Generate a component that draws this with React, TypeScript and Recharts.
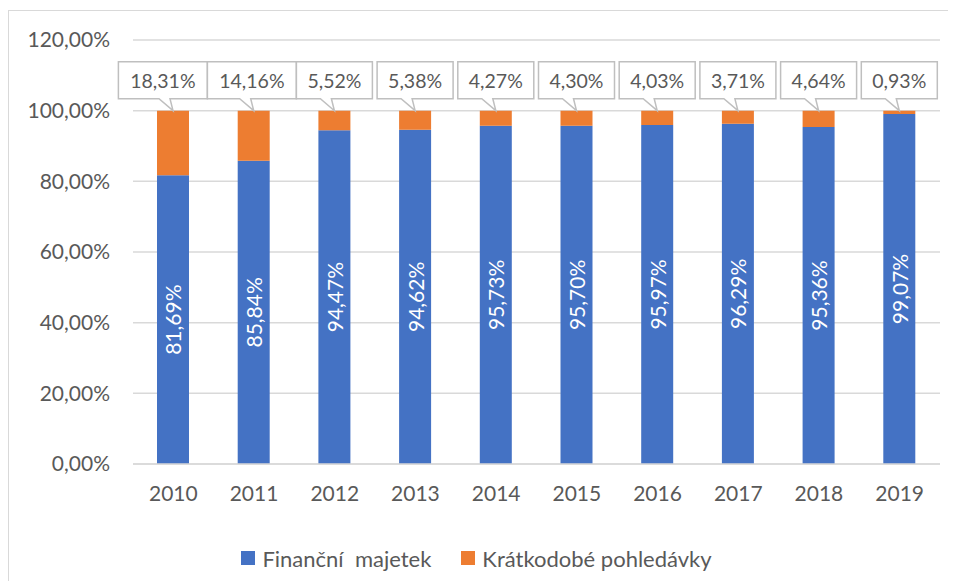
import { BarChart, Bar, XAxis, YAxis, CartesianGrid, Legend, LabelList } from "recharts";

const years = ["2010", "2011", "2012", "2013", "2014", "2015", "2016", "2017", "2018", "2019"];
const financni = [81.69, 85.84, 94.47, 94.62, 95.73, 95.7, 95.97, 96.29, 95.36, 99.07];
const pohledavky = [18.31, 14.16, 5.52, 5.38, 4.27, 4.3, 4.03, 3.71, 4.64, 0.93];
const yTicks = [0, 20, 40, 60, 80, 100, 120];

const data = years.map((y, i) => ({ year: y, fin: financni[i], poh: pohledavky[i] }));

const FONT = "Lato, 'Open Sans', sans-serif";
const TEXT = "#595959";
const BLUE = "#4472c4";
const ORANGE = "#ed7d31";
const FS = 21;

const CHART_W = 948;
const MARGIN = { top: 29, right: 17, bottom: 19, left: 0 };
const Y_W = 124;
const STEP = (CHART_W - MARGIN.left - MARGIN.right - Y_W) / years.length;

const pct = (v: number) => `${v.toFixed(2).replace(".", ",")}%`;
const boxWidth = (v: number) => pct(v).length * 13 + 11;

// shift callouts left so neighbouring boxes don't overlap (like Excel does)
const shifts: number[] = new Array(pohledavky.length).fill(0);
for (let i = pohledavky.length - 2; i >= 0; i--) {
  const room = STEP + shifts[i + 1] - (boxWidth(pohledavky[i]) + boxWidth(pohledavky[i + 1])) / 2;
  shifts[i] = Math.min(0, room);
}

// white rotated label inside the blue segment
const InsideLabel = (props: any) => {
  const { x, y, width, height, value } = props;
  const cx = x + width / 2;
  const cy = y + height / 2;
  return (
    <text
      x={cx}
      y={cy}
      transform={`rotate(-90 ${cx} ${cy})`}
      textAnchor="middle"
      dominantBaseline="central"
      fill="#fff"
      fontSize={FS}
      fontFamily={FONT}
    >
      {pct(value)}
    </text>
  );
};

// callout box above the stack
const Callout = (props: any) => {
  const { x, y, width, value, index } = props;
  const label = pct(value);
  const cx = x + width / 2;
  const bx = cx + (shifts[index] || 0);
  const w = boxWidth(value);
  const left = bx - w / 2;
  const right = bx + w / 2;
  const bottom = y - 12;
  const top = bottom - 37;
  const d = `M${left},${top} H${right} V${bottom} H${cx - 3} L${cx},${y} L${cx - 14},${bottom} H${left} Z`;
  return (
    <g>
      <path d={d} fill="#fff" stroke="#bfbfbf" strokeWidth={1.5} />
      <text
        x={bx}
        y={(top + bottom) / 2}
        textAnchor="middle"
        dominantBaseline="central"
        fill={TEXT}
        fontSize={19.5}
        fontFamily={FONT}
      >
        {label}
      </text>
    </g>
  );
};

const LegendBox = () => (
  <div
    style={{
      display: "flex",
      justifyContent: "center",
      alignItems: "center",
      gap: 30,
      paddingLeft: 4,
      fontFamily: FONT,
      fontSize: 22,
      color: TEXT,
      height: 24,
    }}
  >
    <span style={{ display: "flex", alignItems: "center" }}>
      <span style={{ width: 14, height: 14, background: BLUE, marginRight: 7 }} />
      <span style={{ whiteSpace: "pre" }}>Finanční  majetek</span>
    </span>
    <span style={{ display: "flex", alignItems: "center" }}>
      <span style={{ width: 14, height: 14, background: ORANGE, marginRight: 7 }} />
      <span>Krátkodobé pohledávky</span>
    </span>
  </div>
);

export default function App() {
  return (
    <div
      style={{
        position: "relative",
        top: 2,
        width: 960,
        height: 590,
        border: "1px solid #d9d9d9",
        boxSizing: "border-box",
        background: "#fff",
      }}
    >
      <BarChart width={CHART_W} height={578} data={data} margin={MARGIN}>
        <CartesianGrid vertical={false} stroke="#d9d9d9" strokeWidth={1.5} />
        <XAxis
          dataKey="year"
          axisLine={{ stroke: "#d9d9d9", strokeWidth: 1.5 }}
          tickLine={false}
          tickSize={0}
          tickMargin={22}
          height={82}
          tick={{ fill: TEXT, fontSize: FS, fontFamily: FONT }}
        />
        <YAxis
          domain={[0, 120]}
          ticks={yTicks}
          axisLine={false}
          tickLine={false}
          tickSize={0}
          tickMargin={23}
          width={Y_W}
          tickFormatter={pct}
          tick={{ fill: TEXT, fontSize: FS, fontFamily: FONT }}
        />
        <Legend verticalAlign="bottom" height={24} content={<LegendBox />} />
        <Bar dataKey="fin" stackId="a" fill={BLUE} barSize={32} isAnimationActive={false}>
          <LabelList dataKey="fin" content={<InsideLabel />} />
        </Bar>
        <Bar dataKey="poh" stackId="a" fill={ORANGE} barSize={32} isAnimationActive={false}>
          <LabelList dataKey="poh" content={<Callout />} />
        </Bar>
      </BarChart>
    </div>
  );
}
